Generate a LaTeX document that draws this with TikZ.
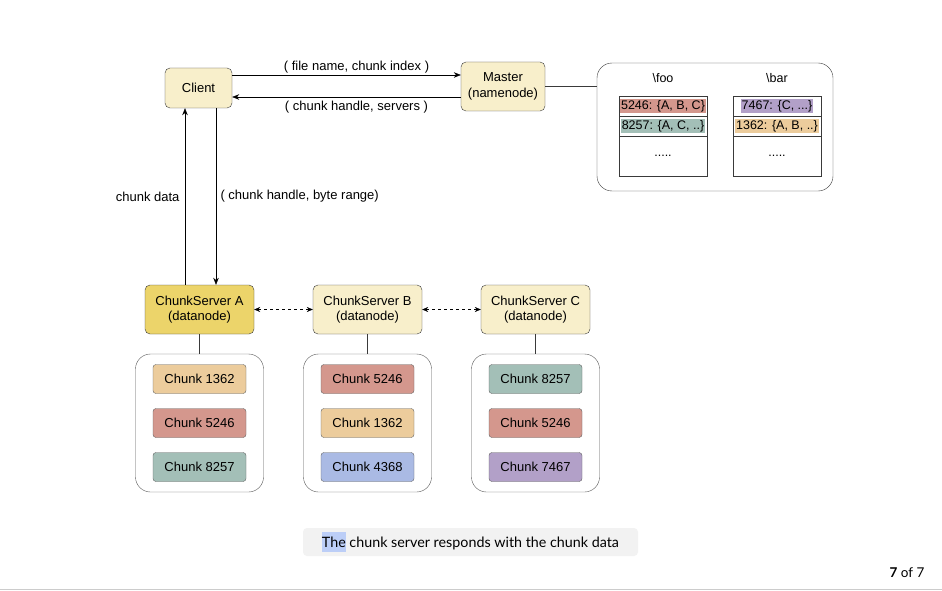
\documentclass[tikz,border=0pt]{standalone}
\usepackage{fontspec}
\setmainfont{Liberation Sans}
\newfontfamily\capfont{Lato}
\usetikzlibrary{arrows.meta}
\definecolor{cream}{HTML}{F8EFCB}
\definecolor{csdark}{HTML}{ECD46A}
\definecolor{boxline}{HTML}{3A3A3A}
\definecolor{c1362}{HTML}{ECCC9C}
\definecolor{c5246}{HTML}{D4978D}
\definecolor{c8257}{HTML}{A3BFB7}
\definecolor{c4368}{HTML}{AABAE4}
\definecolor{c7467}{HTML}{B2A0C8}
\definecolor{capbg}{HTML}{F2F2F2}
\definecolor{thehl}{HTML}{BCCEF7}

\begin{document}
\begin{tikzpicture}[x=1pt,y=-1pt,
		every node/.style={font=\fontsize{13}{15.5}\selectfont},
		box/.style={draw=boxline, fill=cream, rounded corners=5pt, align=center, inner sep=0pt},
		group/.style={draw=boxline!85, rounded corners=15pt, minimum width=128pt, minimum height=138pt},
		chunk/.style={draw=boxline!80, rounded corners=3pt, minimum width=93pt, minimum height=29pt},
		cell/.style={draw=boxline, minimum width=88pt, inner sep=0pt},
		tab/.style={font=\fontsize{12.5}{15}\selectfont},
		arr/.style={-{Stealth[length=7pt,width=5.5pt]}, black},
		peer/.style={{Stealth[length=6pt,width=5pt]}-{Stealth[length=6pt,width=5pt]}, dashed, black}]
		% page
		\useasboundingbox (0,0) rectangle (942,591);
		\fill[white] (0,0) rectangle (942,591);
		\draw[gray!40] (0,589.5) -- (942,589.5);
		% client and master
		\node[box, minimum width=67pt, minimum height=40pt] (client) at (198.5,88) {Client};
		\node[box, minimum width=84pt, minimum height=49pt] (master) at (503,86.5) {Master\\(namenode)};
		\draw[arr] ([yshift=13pt]client.east) -- ([yshift=13pt]client.east -| master.west)
			node[midway, xshift=10pt, yshift=8pt] {( file name, chunk index )};
		\draw[arr] ([yshift=-9pt]client.east -| master.west) -- ([yshift=-9pt]client.east)
			node[midway, xshift=10pt, yshift=-10pt] {( chunk handle, servers )};
		% metadata
		\node[draw=boxline, rounded corners=15pt, minimum width=236pt, minimum height=128pt] (meta) at (715,127) {};
		\draw[boxline] (master) -- (master -| meta.west);
		\foreach \t/\x/\a/\ca/\b/\cb in {
			{\textbackslash foo}/663/{5246: \{A, B, C\}}/c5246/{8257: \{A, C, ..\}}/c8257,
			{\textbackslash bar}/777/{7467: \{C, ...\}}/c7467/{1362: \{A, B, ..\}}/c1362} {
			\node[tab] (title\x) at (\x,78) {\t};
			\node[cell, minimum height=20pt] (rowa\x) at (\x,106) {};
			\node[cell, minimum height=20pt] (rowb\x) at (\x,126) {};
			\node[cell, tab, minimum height=40pt] (rowc\x) at (\x,156) {.....};
			\node[tab, fill=\ca, inner sep=1pt] at (rowa\x) {\a};
			\node[tab, fill=\cb, inner sep=1pt] at (rowb\x) {\b};
		}
		% chunk servers
		\foreach \s/\x/\col/\i/\j/\k in {A/199.5/csdark/1362/5246/8257,
				B/367.5/cream/5246/1362/4368, C/535.5/cream/8257/5246/7467} {
			\node[box, fill=\col, minimum width=109pt, minimum height=49pt] (cs\s) at (\x,309.5)
				{ChunkServer \s\\(datanode)};
			\node[group] (grp\s) at (\x,423) {};
			\draw[boxline] (cs\s) -- (grp\s);
			\node[chunk, fill=c\i] (ch\s\i) at (\x,379) {Chunk \i};
			\node[chunk, fill=c\j] (ch\s\j) at (\x,423) {Chunk \j};
			\node[chunk, fill=c\k] (ch\s\k) at (\x,467) {Chunk \k};
		}
		\draw[peer] (csA) -- (csB);
		\draw[peer] (csB) -- (csC);
		% client <-> chunkserver A
		\draw[arr] ([xshift=-14.5pt]csA.north) -- ([xshift=-14.5pt]csA.north |- client.south)
			node[midway, left=2pt] {chunk data};
		\draw[arr] ([xshift=16.5pt]csA.north |- client.south) -- ([xshift=16.5pt]csA.north)
			node[midway, right=1pt] {( chunk handle, byte range)};
		% caption
		\node[fill=capbg, rounded corners=4pt, minimum width=335pt, minimum height=28pt,
			font=\capfont\fontsize{14.3}{17}\selectfont] (caption) at (470.5,542)
			{{\setlength\fboxsep{0pt}\colorbox{thehl}{\rule[-5pt]{0pt}{20pt}The}} chunk server responds with the chunk data};
		\node[font=\capfont\fontsize{13.5}{16}\selectfont, anchor=east] (pager) at (928,573) {\textbf{7} of 7};
	\end{tikzpicture}
\end{document}
